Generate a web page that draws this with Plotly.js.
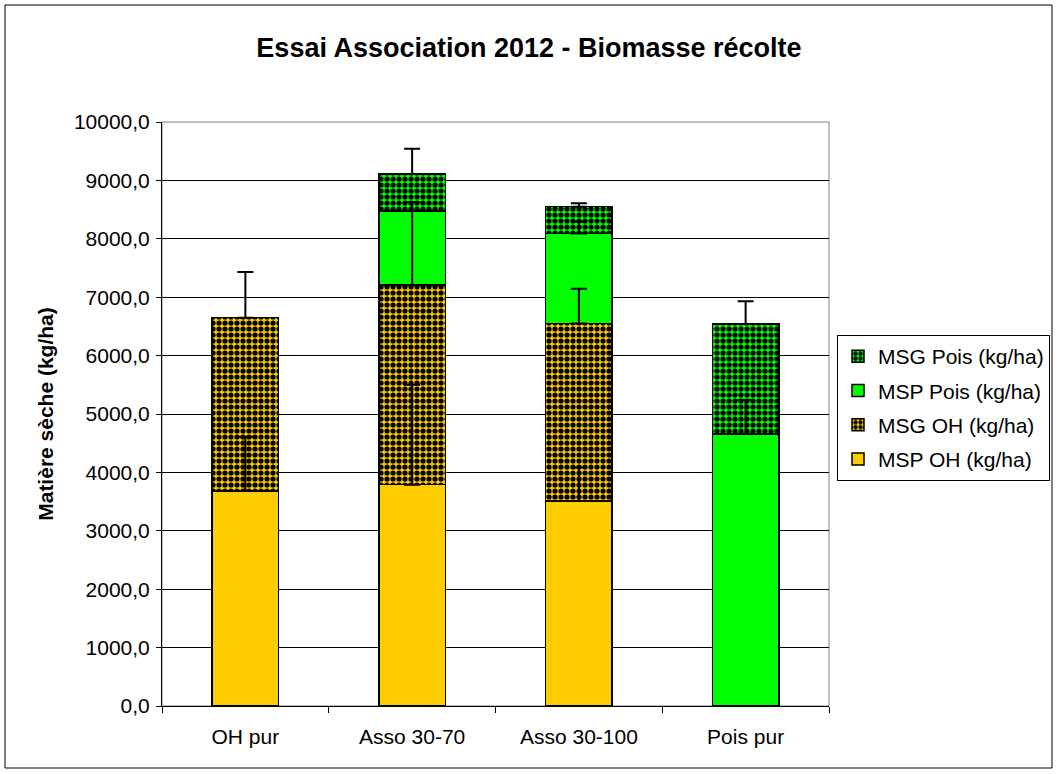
<!DOCTYPE html>
<html>
<head>
<meta charset="utf-8">
<script src="https://cdn.plot.ly/plotly-3.0.1.min.js"></script>
<style>
  html, body { margin: 0; padding: 0; background: #fff; }
  #chart { width: 1058px; height: 774px; }
</style>
</head>
<body>
<div id="chart"></div>
<script>
// ---- data ----
const categories = ["OH pur", "Asso 30-70", "Asso 30-100", "Pois pur"];
const mspOH   = [3680, 3790, 3510, null];
const msgOH   = [2970, 3420, 3040, null];
const mspPois = [null, 1270, 1540, 4660];
const msgPois = [null, 630, 460, 1880];
// plus-direction error bars (kg/ha)
const errMspOH   = [930, 1710, 575, null];
const errMsgOH   = [780, 1420, 595, null];
const errMspPois = [null, 150, 200, 580];
const errMsgPois = [null, 430, 60, 390];
const seriesNames = ["MSP OH (kg/ha)", "MSG OH (kg/ha)", "MSP Pois (kg/ha)", "MSG Pois (kg/ha)"];

const FONT = '"Liberation Sans", Arial, sans-serif';
const YEL = '#FFCC00', GRN = '#00FF00';

const series = [mspOH, msgOH, mspPois, msgPois];
const errs = [errMspOH, errMsgOH, errMspPois, errMsgPois];
const colors = [YEL, YEL, GRN, GRN];
const patterned = [false, true, false, true];

const traces = [];
series.forEach((vals, i) => {
  const m = { color: colors[i], line: { color: '#000', width: 1.5 } };
  if (patterned[i]) {
    m.pattern = { shape: '.', fgcolor: '#000', bgcolor: colors[i], size: 6, solidity: 0.6, fillmode: 'replace' };
  }
  traces.push({
    type: 'bar', x: categories, y: vals, name: seriesNames[i],
    marker: m, legendgroup: 'g' + i, legendrank: 100 - i, hoverinfo: 'y+name'
  });
});

// cumulative tops for error bars (stacked)
const cum = categories.map(() => 0);
series.forEach((vals, i) => {
  const tops = vals.map((v, k) => {
    if (v === null) return null;
    cum[k] += v;
    return cum[k];
  });
  traces.push({
    type: 'scatter', mode: 'markers', x: categories, y: tops,
    marker: { size: 1, opacity: 0 }, showlegend: false, hoverinfo: 'skip',
    error_y: { type: 'data', symmetric: false, array: errs[i], arrayminus: categories.map(() => 0),
               color: '#000', thickness: 2, width: 8 }
  });
});

const layout = {
  width: 1058, height: 774,
  margin: { l: 162, r: 229, t: 122, b: 68, autoexpand: false },
  paper_bgcolor: '#fff', plot_bgcolor: '#fff',
  font: { family: FONT, size: 21, color: '#000' },
  separators: ', ',
  barmode: 'stack', bargap: 0.6,
  title: { text: '<b>Essai Association 2012 - Biomasse récolte</b>', font: { family: FONT, size: 27, color: '#000' },
           xref: 'container', x: 0.5, xanchor: 'center', yref: 'container', y: 1 - 48 / 774, yanchor: 'middle' },
  xaxis: {
    type: 'category', showgrid: false, showline: true, linecolor: '#000', linewidth: 1,
    ticks: 'outside', tickson: 'boundaries', ticklen: 6, tickcolor: '#000', ticklabelstandoff: 12,
    tickfont: { family: FONT, size: 21, color: '#000' }, fixedrange: true
  },
  yaxis: {
    range: [0, 10000], dtick: 1000, tick0: 0, tickformat: '.1f',
    showgrid: true, gridcolor: '#000', gridwidth: 1, zeroline: false,
    showline: true, linecolor: '#000', linewidth: 1,
    ticks: 'outside', ticklen: 5, tickcolor: '#000', ticklabelstandoff: 2,
    tickfont: { family: FONT, size: 21, color: '#000' },
    title: { text: '<b>Matière sèche (kg/ha)</b>', font: { family: FONT, size: 21, color: '#000' }, standoff: 14 },
    fixedrange: true
  },
  legend: {
    xref: 'container', x: 837 / 1058, xanchor: 'left', yref: 'container', y: 1 - 335 / 774, yanchor: 'top',
    bordercolor: '#000', borderwidth: 1, bgcolor: '#fff',
    traceorder: 'grouped', tracegroupgap: 4,
    font: { family: FONT, size: 21, color: '#000' }
  },
  shapes: [
    { type: 'rect', xref: 'paper', yref: 'paper', x0: 0, x1: 1, y0: 0, y1: 1,
      line: { color: '#808080', width: 1 }, layer: 'below' },
    { type: 'rect', xref: 'paper', yref: 'paper',
      x0: (5 - 162) / 667, x1: (1052 - 162) / 667, y0: (706 - 768) / 584, y1: (706 - 5) / 584,
      line: { color: '#000', width: 1 }, layer: 'below' }
  ]
};

Plotly.newPlot('chart', traces, layout, { displayModeBar: false, staticPlot: true });
</script>
</body>
</html>
